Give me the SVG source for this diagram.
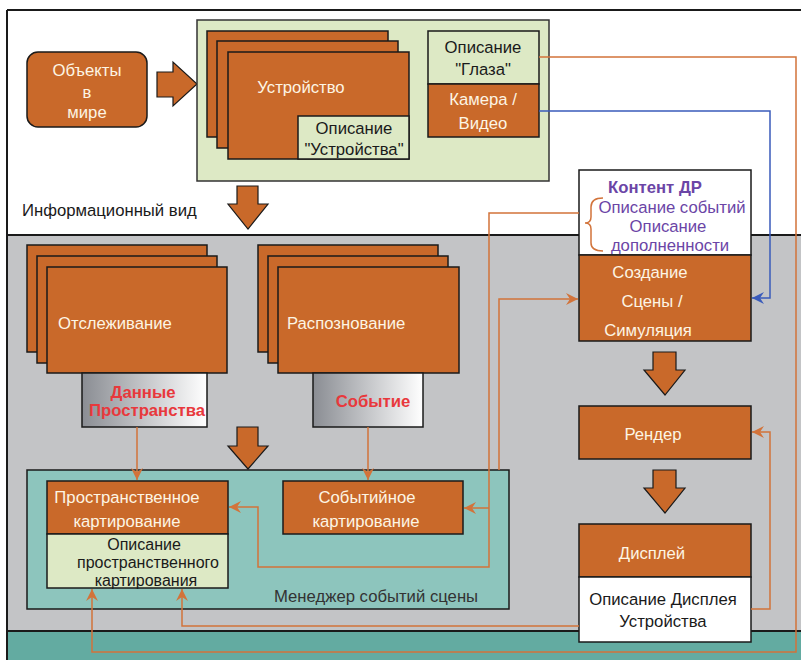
<svg xmlns="http://www.w3.org/2000/svg" width="801" height="660" viewBox="0 0 801 660">
  <style>
    text { font-family: "Liberation Sans", Arial, sans-serif; font-size: 16.7px; }
    .org { fill: #c9692a; stroke: #1a1a1a; stroke-width: 1.5; }
    .lg { fill: #dde9c5; stroke: #1a1a1a; stroke-width: 1.5; }
    .wt { fill: #fdf5e4; }
    .bk { fill: #1a1a1a; }
    .sm { font-size: 16px; }
    .red { fill: #e8383c; font-weight: bold; }
    .pur { fill: #6b45a6; }
    .blk { fill: #c9692a; stroke: #1a1a1a; stroke-width: 1.2; stroke-linejoin: miter; }
    .con { fill: none; stroke: #d2733a; stroke-width: 1.5; }
    .conb { fill: none; stroke: #3a5bbb; stroke-width: 1.5; }
    .mid { text-anchor: middle; }
  </style>
  <defs>
    <marker id="ah" markerUnits="userSpaceOnUse" markerWidth="14" markerHeight="12" refX="12" refY="6" orient="auto">
      <path d="M0,0 L12,6 L0,12 L4,6 z" fill="#d2733a"/>
    </marker>
    <marker id="ahb" markerUnits="userSpaceOnUse" markerWidth="14" markerHeight="12" refX="12" refY="6" orient="auto">
      <path d="M0,0 L12,6 L0,12 L4,6 z" fill="#3a5bbb"/>
    </marker>
    <linearGradient id="fade" x1="0" y1="0" x2="1" y2="0">
      <stop offset="0" stop-color="#8a8d93"/>
      <stop offset="1" stop-color="#ffffff"/>
    </linearGradient>
  </defs>

  <!-- background bands -->
  <rect x="0" y="0" width="801" height="660" fill="#ffffff"/>
  <rect x="7" y="235" width="800" height="396" fill="#c3c4c6"/>
  <rect x="7" y="631" width="800" height="40" fill="#63aba1"/>
  <path d="M7,10 H801 M7,10 V660 M7,235 H801 M7,631 H801" fill="none" stroke="#1a1a1a" stroke-width="2"/>

  <!-- information view -->
  <g id="objects">
    <rect x="27" y="52" width="120" height="75" rx="11" class="org"/>
    <text x="87" y="76" class="wt mid">Объекты</text>
    <text x="87" y="98" class="wt mid">в</text>
    <text x="87" y="118" class="wt mid">мире</text>
  </g>
  <polygon points="157,72 173,72 173,62 197,84 173,106 173,97 157,97" class="blk"/>

  <g id="device">
    <rect x="197" y="20" width="352" height="161" fill="#dde9c5" stroke="#333" stroke-width="1.5"/>
    <rect x="207" y="31" width="181" height="106" class="org"/>
    <rect x="217" y="41" width="181" height="107" class="org"/>
    <rect x="228" y="52" width="181" height="107" class="org"/>
    <text x="301" y="93" class="wt mid">Устройство</text>
    <rect x="298" y="116" width="111" height="43" class="lg"/>
    <text x="354" y="134" class="bk mid">Описание</text>
    <text x="354" y="155" class="bk mid">"Устройства"</text>
  </g>

  <g id="eye">
    <rect x="428" y="31" width="111" height="53" class="lg"/>
    <text x="483" y="53" class="bk mid">Описание</text>
    <text x="483" y="75" class="bk mid">"Глаза"</text>
    <rect x="428" y="84" width="111" height="53" class="org"/>
    <text x="483" y="105" class="wt mid">Камера /</text>
    <text x="483" y="129" class="wt mid">Видео</text>
  </g>

  <polygon points="237,186 258,186 258,204 268,204 248,229 228,204 237,204" class="blk"/>
  <text id="info-view" x="22" y="216" fill="#1a1a1a">Информационный вид</text>

  <!-- processing -->
  <g id="tracking">
    <rect x="27" y="245" width="180" height="107" class="org"/>
    <rect x="37" y="256" width="180" height="107" class="org"/>
    <rect x="47" y="267" width="180" height="106" class="org"/>
    <text x="58" y="329" class="wt">Отслеживание</text>
  </g>
  <g id="space-data">
    <rect x="82" y="373" width="125" height="54" fill="url(#fade)" stroke="#1a1a1a" stroke-width="1.5"/>
    <text x="143" y="398" class="red mid">Данные</text>
    <text x="147" y="416" class="red mid">Пространства</text>
  </g>

  <g id="recognition">
    <rect x="258" y="245" width="180" height="107" class="org"/>
    <rect x="268" y="256" width="180" height="107" class="org"/>
    <rect x="278" y="267" width="181" height="106" class="org"/>
    <text x="287" y="329" class="wt">Распознование</text>
  </g>
  <g id="event">
    <rect x="313" y="373" width="110" height="54" fill="url(#fade)" stroke="#1a1a1a" stroke-width="1.5"/>
    <text x="373" y="407" class="red mid">Событие</text>
  </g>

  <polygon points="237,427 258,427 258,446 268,446 248,469 228,446 237,446" class="blk"/>

  <g id="scene-manager">
    <rect x="27" y="470" width="482" height="139" fill="#8dc5bd" stroke="#1a1a1a" stroke-width="1.5"/>
    <text x="274" y="602" fill="#333">Менеджер событий сцены</text>
  </g>
  <g id="spatial-mapping">
    <rect x="47" y="481" width="181" height="53" class="org"/>
    <text x="127" y="503" class="wt mid">Пространственное</text>
    <text x="127" y="527" class="wt mid">картирование</text>
    <rect x="47" y="534" width="181" height="54" class="lg"/>
    <text x="144" y="550" class="bk mid sm">Описание</text>
    <text x="148" y="568" class="bk mid sm">пространственного</text>
    <text x="146" y="586" class="bk mid sm">картирования</text>
  </g>
  <g id="event-mapping">
    <rect x="283" y="481" width="180" height="53" class="org"/>
    <text x="367" y="503" class="wt mid">Событийное</text>
    <text x="366" y="527" class="wt mid">картирование</text>
  </g>

  <g id="ar-content">
    <rect x="579" y="170" width="172" height="85" fill="#ffffff" stroke="#1a1a1a" stroke-width="1.5"/>
    <text x="655" y="193" class="pur mid" font-weight="bold">Контент ДР</text>
    <text x="672" y="213" class="pur mid">Описание событий</text>
    <text x="668" y="232" class="pur mid">Описание</text>
    <text x="670" y="251" class="pur mid">дополненности</text>
    <path d="M603,198 Q591,198 591,207 V217 Q591,223 585,223 Q591,223 591,229 V243 Q591,251 603,251" class="con"/>
  </g>
  <g id="scene-creation">
    <rect x="579" y="255" width="172" height="86" class="org"/>
    <text x="650" y="278" class="wt mid">Создание</text>
    <text x="652" y="307" class="wt mid">Сцены /</text>
    <text x="648" y="336" class="wt mid">Симуляция</text>
  </g>
  <polygon points="653,352 676,352 676,370 685,370 665,395 644,370 653,370" class="blk"/>
  <g id="render">
    <rect x="579" y="406" width="172" height="53" class="org"/>
    <text x="653" y="440" class="wt mid">Рендер</text>
  </g>
  <polygon points="653,470 676,470 676,488 685,488 665,513 644,488 653,488" class="blk"/>
  <g id="display">
    <rect x="579" y="524" width="172" height="53" class="org"/>
    <text x="652" y="559" class="wt mid">Дисплей</text>
    <rect x="579" y="577" width="172" height="65" fill="#ffffff" stroke="#1a1a1a" stroke-width="1.5"/>
    <text x="663" y="605" class="bk mid">Описание Дисплея</text>
    <text x="663" y="627" class="bk mid">Устройства</text>
  </g>

  <!-- connectors -->
  <g id="connectors">
    <path d="M539,57 H796 V652 H92 V589" class="con" marker-end="url(#ah)"/>
    <path d="M539,111 H770 V298 H752" class="conb" marker-end="url(#ahb)"/>
    <path d="M579,213 H489 V567 H258 V507 H229" class="con" marker-end="url(#ah)"/>
    <path d="M489,508 H464" class="con" marker-end="url(#ah)"/>
    <path d="M499,470 V299 H578" class="con" marker-end="url(#ah)"/>
    <path d="M137,427 V480" class="con" marker-end="url(#ah)"/>
    <path d="M368,427 V480" class="con" marker-end="url(#ah)"/>
    <path d="M579,626 H182 V589" class="con" marker-end="url(#ah)"/>
    <path d="M751,609 H770 V432 H752" class="con" marker-end="url(#ah)"/>
  </g>
</svg>
